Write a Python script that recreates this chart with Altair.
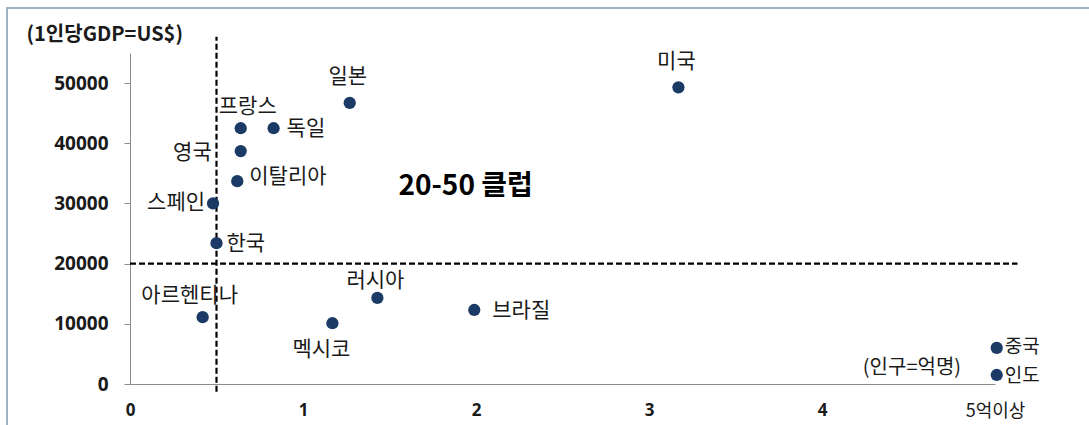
import altair as alt
import pandas as pd

# ---- data ----
countries = ["일본", "미국", "프랑스", "독일", "영국", "이탈리아", "스페인", "한국",
             "아르헨티나", "멕시코", "러시아", "브라질", "중국", "인도"]
population = [1.27, 3.17, 0.64, 0.83, 0.64, 0.62, 0.48, 0.50,
              0.42, 1.17, 1.43, 1.99, 5.01, 5.01]          # 억명
gdp_per_capita = [46700, 49300, 42500, 42500, 38700, 33700, 30000, 23400,
                  11100, 10100, 14300, 12300, 6000, 1500]  # US$

x_ticks = [0, 1, 2, 3, 4, 5]
y_ticks = [0, 10000, 20000, 30000, 40000, 50000]

threshold_pop = 0.5
threshold_gdp = 20000

club_label = ["20-50 클럽"]
club_pos = [(1.94, 32700)]
unit_label = ["(인구=억명)"]
unit_pos = [(4.52, 2700)]

# ---- label offsets (style, pixels): dx, dy, align, font size ----
label_style = {
    "일본": (-2, -26, "center", 21),
    "미국": (-2, -25, "center", 21),
    "프랑스": (7, -21, "center", 21),
    "독일": (13, 1, "left", 21),
    "영국": (-29, 2, "right", 21),
    "이탈리아": (12, -4, "left", 21),
    "스페인": (-8, 0, "right", 21),
    "한국": (10, 1, "left", 21),
    "아르헨티나": (-13, -21, "center", 21),
    "멕시코": (-11, 27, "center", 21),
    "러시아": (-2, -17, "center", 21),
    "브라질": (18, 1, "left", 21),
    "중국": (8, -1, "left", 19),
    "인도": (8, 1, "left", 19),
}

df = pd.DataFrame({"country": countries, "pop": population, "gdp": gdp_per_capita})

FONT_KR = "Noto Sans CJK KR"
FONT_NUM = "Open Sans"
TEXT_COLOR = "#1a1a1a"
DOT_COLOR = "#1b3a66"

xscale = alt.Scale(domain=[0, 5], nice=False, zero=True)
yscale = alt.Scale(domain=[0, 55000], nice=False)

x_enc = alt.X(
    "pop:Q", scale=xscale,
    axis=alt.Axis(
        values=x_ticks, format="d", title=None, ticks=False, grid=False,
        domainColor="#8c8c8c", domainWidth=1,
        labelFont={"condition": {"test": "datum.value === 5", "value": FONT_KR}, "value": FONT_NUM},
        labelFontSize={"condition": {"test": "datum.value === 5", "value": 18}, "value": 17},
        labelFontWeight={"condition": {"test": "datum.value === 5", "value": "normal"}, "value": "bold"},
        labelColor=TEXT_COLOR, labelPadding=18,
        labelExpr="datum.value === 5 ? '5억이상' : datum.label",
        labelFlush=False, labelOverlap=False,
    ),
)
y_enc = alt.Y(
    "gdp:Q", scale=yscale,
    axis=alt.Axis(
        values=y_ticks, format="d", grid=False,
        domainColor="#8c8c8c", domainWidth=1,
        tickColor="#8c8c8c", tickSize=6,
        labelFont=FONT_NUM, labelFontSize=19, labelFontWeight="bold",
        labelColor=TEXT_COLOR, labelPadding=16,
        title="(1인당GDP=US$)", titleAngle=0, titleAlign="left",
        titleBaseline="middle", titleX=-104, titleY=-19,
        titleFont=FONT_KR, titleFontSize=20, titleFontWeight="bold",
        titleColor=TEXT_COLOR,
    ),
)

base = alt.Chart(df)

points = base.mark_circle(size=150, opacity=1, color=DOT_COLOR).encode(x=x_enc, y=y_enc)

# dashed reference lines (extend a little beyond the plot like the original drawing)
vline_df = pd.DataFrame({"x": [threshold_pop], "y": [-1300], "y2": [57700]})
hline_df = pd.DataFrame({"x": [0], "x2": [5.13], "y": [threshold_gdp]})

vline = alt.Chart(vline_df).mark_rule(
    color="black", strokeWidth=2.2, strokeDash=[6, 3], clip=False
).encode(x=alt.X("x:Q", scale=xscale), y=alt.Y("y:Q", scale=yscale), y2="y2:Q")

hline = alt.Chart(hline_df).mark_rule(
    color="black", strokeWidth=2.2, strokeDash=[6, 3], clip=False
).encode(x=alt.X("x:Q", scale=xscale), x2="x2:Q", y=alt.Y("y:Q", scale=yscale))

layers = [vline, hline, points]

for name, (dx, dy, align, fs) in label_style.items():
    layers.append(
        base.transform_filter(alt.datum.country == name).mark_text(
            font=FONT_KR, fontSize=fs, color=TEXT_COLOR, dx=dx, dy=dy,
            align=align, baseline="middle",
        ).encode(x=alt.X("pop:Q", scale=xscale), y=alt.Y("gdp:Q", scale=yscale), text="country:N")
    )

club_df = pd.DataFrame({"t": club_label, "x": [p[0] for p in club_pos], "y": [p[1] for p in club_pos]})
unit_df = pd.DataFrame({"t": unit_label, "x": [p[0] for p in unit_pos], "y": [p[1] for p in unit_pos]})

club = alt.Chart(club_df).mark_text(
    font=FONT_KR, fontSize=28, fontWeight="bold", color="black", baseline="middle"
).encode(x=alt.X("x:Q", scale=xscale), y=alt.Y("y:Q", scale=yscale), text="t:N")

unit = alt.Chart(unit_df).mark_text(
    font=FONT_KR, fontSize=20, color=TEXT_COLOR, baseline="middle"
).encode(x=alt.X("x:Q", scale=xscale), y=alt.Y("y:Q", scale=yscale), text="t:N")

layers += [club, unit]

# outer chart-area frame (decorative)
frame = alt.Chart(pd.DataFrame({"a": [0]})).mark_rect(
    fill=None, stroke="#9fb3c6", strokeWidth=2, clip=False
).encode(x=alt.value(-123), x2=alt.value(1000), y=alt.value(-45), y2=alt.value(400))

chart = alt.layer(frame, *layers).properties(
    width=865, height=331,
    padding={"left": 130, "top": 53, "right": 94, "bottom": 41},
    autosize=alt.AutoSizeParams(type="none"),
    background="white",
).configure_view(stroke=None)

chart.save("out.html", embed_options={"renderer": "svg", "actions": False})
